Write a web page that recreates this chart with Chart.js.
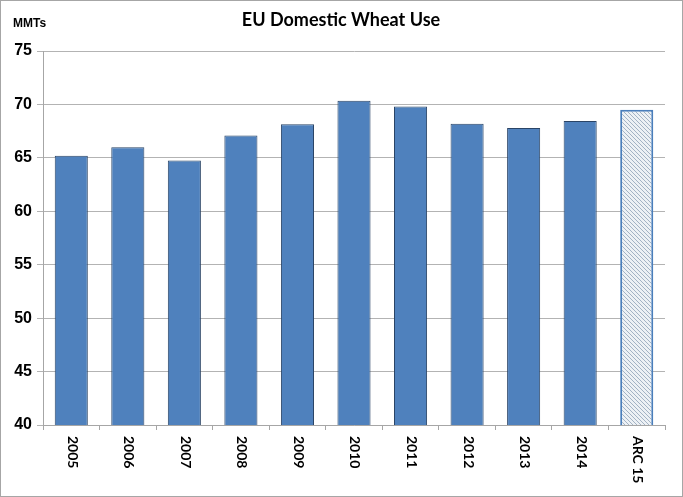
<!DOCTYPE html>
<html>
<head>
<meta charset="utf-8">
<script src="https://cdn.jsdelivr.net/npm/chart.js@4"></script>
<style>
	html, body { margin: 0; padding: 0; background: #fff; }
	#wrap { width: 683px; height: 497px; }
</style>
</head>
<body>
<div id="wrap"><canvas id="myChart"></canvas></div>
<script>
/* 資料 */
var categories = ['2005', '2006', '2007', '2008', '2009', '2010', '2011', '2012', '2013', '2014', 'ARC 15'];
var wheatUse = [65.2, 66.0, 64.75, 67.1, 68.15, 70.35, 69.8, 68.2, 67.8, 68.45, 69.5];
var yTicks = [40, 45, 50, 55, 60, 65, 70, 75];

var chartTitle = 'EU Domestic Wheat Use';
var unitLabel = 'MMTs';

// 最後一根 (ARC 15) 用斜線圖樣
function makeHatch() {
	var c = document.createElement('canvas');
	c.width = 4;
	c.height = 4;
	var g = c.getContext('2d');
	g.fillStyle = '#edf1f5';
	g.fillRect(0, 0, 4, 4);
	g.strokeStyle = '#a3b3c4';
	g.lineWidth = 1;
	g.beginPath();
	g.moveTo(0, 0); g.lineTo(4, 4);
	g.moveTo(-1, 3); g.lineTo(1, 5);
	g.moveTo(3, -1); g.lineTo(5, 1);
	g.stroke();
	return g.createPattern(c, 'repeat');
}

var hatch = makeHatch();
var fills = [];
var borders = [];
var borderWidths = [];
for (var i = 0; i < categories.length; i++) {
	if (categories[i].indexOf('ARC') === 0) {
		fills.push(hatch);
		borders.push('#4a7ebb');
		borderWidths.push(2);
	} else {
		fills.push('#4f81bd');
		borders.push('#2a4466');
		borderWidths.push(1);
	}
}

// 標題、單位、外框、旋轉的 x 軸文字
var decor = {
	id: 'decor',
	afterDraw: function(chart) {
		var ctx = chart.ctx;
		var xs = chart.scales.x;
		ctx.save();
		ctx.fillStyle = '#000';
		ctx.textBaseline = 'middle';
		ctx.font = 'bold 18px Lato, "Liberation Sans", sans-serif';
		ctx.textAlign = 'center';
		ctx.fillText(chartTitle, 341, 20);
		ctx.font = 'bold 12px "Liberation Sans", sans-serif';
		ctx.textAlign = 'left';
		ctx.fillText(unitLabel, 13, 24);

		ctx.font = 'bold 14px Lato, "Liberation Sans", sans-serif';
		for (var i = 0; i < categories.length; i++) {
			var x = xs.getPixelForTick(i);
			ctx.save();
			ctx.translate(x + 1, 436);
			ctx.rotate(Math.PI / 2);
			ctx.textAlign = 'left';
			ctx.textBaseline = 'middle';
			ctx.fillText(categories[i], 0, 0);
			ctx.restore();
		}

		ctx.strokeStyle = '#a6a6a6';
		ctx.lineWidth = 1;
		ctx.strokeRect(0.5, 0.5, chart.width - 1, chart.height - 1);
		ctx.restore();
	}
};

var myChart = new Chart(document.getElementById('myChart'), {
	type: 'bar',
	data: {
		labels: categories,
		datasets: [{
			label: chartTitle,
			data: wheatUse,
			backgroundColor: fills,
			borderColor: borders,
			borderWidth: borderWidths,
			borderSkipped: false,
			categoryPercentage: 1,
			barPercentage: 0.585
		}]
	},
	options: {
		responsive: true,
		maintainAspectRatio: false,
		animation: false,
		layout: { padding: { top: 51, right: 18, bottom: 0, left: 0 } },
		plugins: {
			legend: { display: false },
			tooltip: { enabled: false }
		},
		scales: {
			x: {
				grid: {
					offset: true,
					drawOnChartArea: false,
					drawTicks: true,
					tickLength: 5,
					color: '#a6a6a6'
				},
				border: { color: '#a6a6a6' },
				ticks: { display: false },
				afterFit: function(scale) { scale.height = 72; }
			},
			y: {
				min: 40,
				max: 75,
				afterBuildTicks: function(scale) {
					scale.ticks = yTicks.map(function(v) { return { value: v }; });
				},
				grid: {
					color: '#b3b3b3',
					tickLength: 6
				},
				border: { color: '#a6a6a6' },
				ticks: {
					color: '#000',
					padding: 5,
					font: { family: '"Liberation Sans", sans-serif', size: 16, weight: 'bold' }
				},
				afterFit: function(scale) { scale.width = 43; }
			}
		}
	},
	plugins: [decor]
});
</script>
</body>
</html>
